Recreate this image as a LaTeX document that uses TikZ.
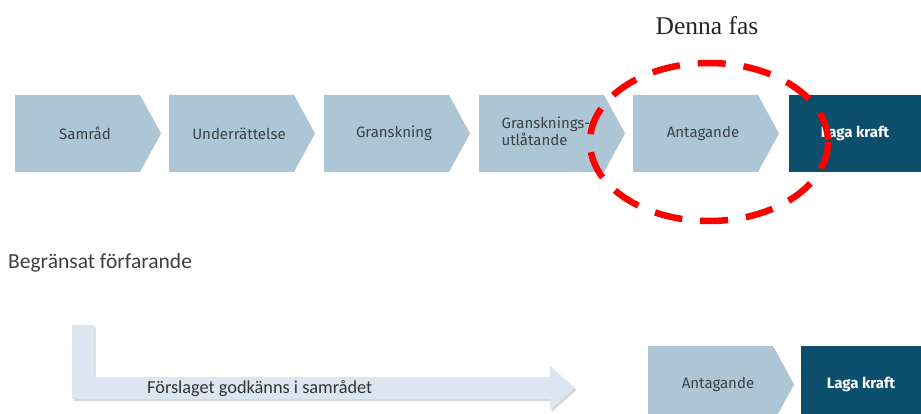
\documentclass[tikz,border=0pt]{standalone}
\usepackage{fontspec}
\setmainfont{Liberation Serif}
\newfontfamily\boxfont{Fira Sans}
\newfontfamily\calfont{Carlito}
\usetikzlibrary{shadows}
\definecolor{lightblu}{HTML}{ADC6D5}
\definecolor{darkblu}{HTML}{0B4F6C}
\definecolor{boxtext}{HTML}{3C4248}
\definecolor{arrowfill}{HTML}{DCE6F1}
\tikzset{
  chev/.style={rectangle, draw=none, minimum width=146pt, minimum height=77pt, inner sep=0pt,
    text=boxtext, font=\boxfont\fontsize{15}{18}\selectfont,
    path picture={\fill[lightblu] (path picture bounding box.north west)
      -- ([xshift=-21pt]path picture bounding box.north east)
      -- (path picture bounding box.east)
      -- ([xshift=-21pt]path picture bounding box.south east)
      -- (path picture bounding box.south west) -- cycle;}},
  darkbox/.style={rectangle, fill=darkblu, draw=none, inner sep=0pt,
    text=white, font=\boxfont\bfseries\fontsize{15}{18}\selectfont},
  phase/.style={draw=red, line width=6.5pt, dash pattern=on 28pt off 18pt},
}
\begin{document}
\begin{tikzpicture}[x=1pt,y=-1pt]
\useasboundingbox (0,0) rectangle (921,414);
\fill[white] (0,0) rectangle (921,414);
% top row
\node[chev] (samrad) at (88,133.5) {\hspace*{-6pt}Samråd};
\node[chev] (underr) at (242,133.5) {\hspace*{-6pt}Underrättelse};
\node[chev] (gransk) at (397,133.5) {\hspace*{-6pt}Granskning};
\node[chev] (utlat) at (552,133.5) {\hspace*{-12pt}\begin{tabular}{@{}l@{}}Gransknings-\\[-1pt]utlåtande\end{tabular}};
\node[chev] (antag) at (706,133.5) {\hspace*{-6pt}Antagande};
\node[darkbox, minimum width=132pt, minimum height=77pt] (laga) at (855,133.5) {Laga kraft};
% phase ellipse
\draw[phase] (709,142) ellipse [x radius=119, y radius=79];
\node[font=\fontsize{25.5}{29}\selectfont, text=black!85] (denna) at (707,26) {Denna fas};
% bottom
\node[anchor=west, font=\calfont\fontsize{21.5}{25}\selectfont, text=black!75, inner sep=0pt] (begr) at (8,263) {Begränsat förfarande};
\path[fill=arrowfill, drop shadow={shadow xshift=1.5pt, shadow yshift=-2pt, fill=black!35, opacity=.45}]
  (72,327) to[rounded corners=2pt] (72,325) -- (94,325) -- (94,377) -- (550,377) -- (550,366)
  -- (575,388) -- (550,410) -- (550,399) -- (72,399) -- cycle;
\node[anchor=west, font=\calfont\fontsize{18.3}{21}\selectfont, text=black!80, inner sep=0pt] (forsl) at (147,388.5) {Förslaget godkänns i samrådet};
\node[chev] (antag2) at (721,384.5) {\hspace*{-6pt}Antagande};
\node[darkbox, minimum width=120pt, minimum height=77pt] (laga2) at (861,384.5) {Laga kraft};
\end{tikzpicture}
\end{document}
